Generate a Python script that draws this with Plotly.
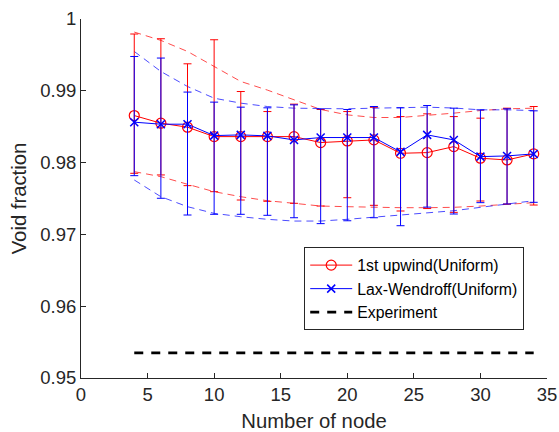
import plotly.graph_objects as go

nodes = [4, 6, 8, 10, 12, 14, 16, 18, 20, 22, 24, 26, 28, 30, 32, 34]

upwind_mean = [0.98655, 0.98549, 0.98493, 0.98362, 0.98362, 0.98362, 0.98362, 0.98279,
               0.98302, 0.98316, 0.98130, 0.98139, 0.98223, 0.98061, 0.98037, 0.98121]
upwind_high = [0.99791, 0.99725, 0.99376, 0.99711, 0.98990, 0.98711, 0.98814, 0.98740,
               0.98711, 0.98770, 0.98641, 0.98679, 0.98641, 0.98619, 0.98758, 0.98781]
upwind_low = [0.97851, 0.97828, 0.97679, 0.97595, 0.97479, 0.97461, 0.97433, 0.97395,
              0.97511, 0.97405, 0.97326, 0.97360, 0.97307, 0.97465, 0.97423, 0.97409]

lw_mean = [0.98563, 0.98535, 0.98535, 0.98376, 0.98386, 0.98372, 0.98316, 0.98349,
           0.98349, 0.98349, 0.98149, 0.98386, 0.98316, 0.98083, 0.98093, 0.98121]
lw_high = [0.99478, 0.99456, 0.98982, 0.98842, 0.98772, 0.98763, 0.98804, 0.98749,
           0.98740, 0.98781, 0.98763, 0.98795, 0.98758, 0.98735, 0.98749, 0.98721]
lw_low = [0.97818, 0.97503, 0.97270, 0.97280, 0.97280, 0.97266, 0.97232, 0.97150,
          0.97190, 0.97232, 0.97121, 0.97380, 0.97284, 0.97442, 0.97423, 0.97447]

upwind_env_high = [0.99818, 0.99702, 0.99548, 0.99339, 0.99130, 0.99010, 0.98870, 0.98740,
                   0.98665, 0.98628, 0.98628, 0.98655, 0.98689, 0.98725, 0.98749, 0.98758]
upwind_env_low = [0.97874, 0.97804, 0.97698, 0.97595, 0.97525, 0.97469, 0.97433, 0.97395,
                  0.97386, 0.97377, 0.97372, 0.97372, 0.97377, 0.97395, 0.97419, 0.97442]
lw_env_high = [0.99548, 0.99269, 0.99060, 0.98897, 0.98828, 0.98781, 0.98758, 0.98749,
               0.98749, 0.98758, 0.98765, 0.98772, 0.98760, 0.98735, 0.98735, 0.98725]
lw_env_low = [0.97758, 0.97525, 0.97386, 0.97293, 0.97246, 0.97210, 0.97186, 0.97186,
              0.97210, 0.97238, 0.97270, 0.97302, 0.97330, 0.97377, 0.97419, 0.97469]

exp_x = [4, 34]
exp_y = [0.9535, 0.9535]

x_ticks = [0, 5, 10, 15, 20, 25, 30, 35]
y_ticks = [0.95, 0.96, 0.97, 0.98, 0.99, 1.0]
y_tick_text = ["0.95", "0.96", "0.97", "0.98", "0.99", "1"]

RED = "#FF0000"
BLUE = "#0000FF"
AX = "#262626"
FONT = "Liberation Sans, Arial, sans-serif"

fig = go.Figure()

# envelope dashed lines
for env, col in [(upwind_env_high, "rgba(255,0,0,0.7)"), (upwind_env_low, "rgba(255,0,0,0.7)"),
                 (lw_env_high, "rgba(0,0,255,0.7)"), (lw_env_low, "rgba(0,0,255,0.7)")]:
    fig.add_trace(go.Scatter(x=nodes, y=env, mode="lines", showlegend=False, hoverinfo="skip",
                             line=dict(color=col, width=1, dash="7px,5px")))

up_plus = [h - m for h, m in zip(upwind_high, upwind_mean)]
up_minus = [m - l for m, l in zip(upwind_mean, upwind_low)]
lw_plus = [h - m for h, m in zip(lw_high, lw_mean)]
lw_minus = [m - l for m, l in zip(lw_mean, lw_low)]

fig.add_trace(go.Scatter(
    x=nodes, y=upwind_mean, mode="lines+markers", name="1st upwind(Uniform)",
    line=dict(color=RED, width=1),
    marker=dict(symbol="circle-open", size=10, color=RED, line=dict(width=1.2, color=RED)),
    error_y=dict(type="data", symmetric=False, array=up_plus, arrayminus=up_minus,
                 color=RED, thickness=1, width=4)))

fig.add_trace(go.Scatter(
    x=nodes, y=lw_mean, mode="lines+markers", name="Lax-Wendroff(Uniform)",
    line=dict(color=BLUE, width=1),
    marker=dict(symbol="x-thin-open", size=8, color=BLUE, line=dict(width=1.5, color=BLUE)),
    error_y=dict(type="data", symmetric=False, array=lw_plus, arrayminus=lw_minus,
                 color=BLUE, thickness=1, width=4)))

fig.add_trace(go.Scatter(
    x=exp_x, y=exp_y, mode="lines", name="Experiment",
    line=dict(color="black", width=2.7, dash="9px,8px")))

fig.update_layout(
    width=559, height=432,
    margin=dict(l=81, r=12, t=19, b=54, autoexpand=False),
    paper_bgcolor="white", plot_bgcolor="white",
    font=dict(family=FONT, color=AX, size=18.5),
    showlegend=True,
    legend=dict(x=0.479, y=0.364, xanchor="left", yanchor="top",
                bgcolor="white", bordercolor=AX, borderwidth=1,
                font=dict(size=15.8, color="black"), itemwidth=42,
                tracegroupgap=0),
    xaxis=dict(range=[0, 35], tickvals=x_ticks, ticks="inside", ticklen=5,
               tickcolor=AX, showline=True, linecolor=AX, linewidth=1,
               showgrid=False, zeroline=False, mirror=False,
               tickfont=dict(size=18.5, color=AX),
               title=dict(text="Number of node", font=dict(size=20.3, color=AX), standoff=14)),
    yaxis=dict(range=[0.95, 1.0], tickvals=y_ticks, ticktext=y_tick_text, ticks="inside",
               ticklen=5, tickcolor=AX, showline=True, linecolor=AX, linewidth=1,
               showgrid=False, zeroline=False, mirror=False,
               tickfont=dict(size=18.5, color=AX),
               title=dict(text="Void fraction", font=dict(size=20.3, color=AX), standoff=8)),
)

fig.write_html("out.html", config={"displayModeBar": False},
               post_script="document.body.style.margin='0px';document.body.style.overflow='hidden';")
